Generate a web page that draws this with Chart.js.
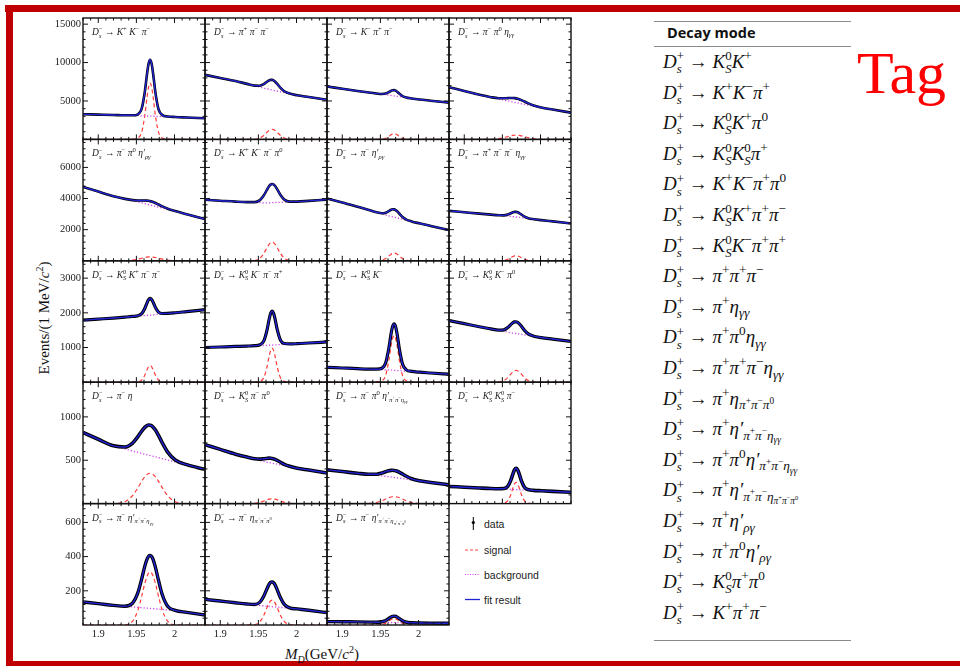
<!DOCTYPE html>
<html><head><meta charset="utf-8">
<script src="https://cdn.jsdelivr.net/npm/chart.js@4.4.1/dist/chart.umd.min.js"></script>
<style>
html,body{margin:0;padding:0;background:#fff;}
#page{position:relative;width:960px;height:666px;overflow:hidden;background:#fff;}
.bar{position:absolute;background:#c00000;}
canvas{position:absolute;z-index:2;}
.ttl{position:absolute;font-family:'Liberation Serif',serif;font-style:italic;font-size:9.5px;color:#222;white-space:nowrap;line-height:12px;z-index:5;}
.up{font-style:normal;}
.sp{font-size:.7em;position:relative;top:-.6em;}
.sb{font-size:.7em;position:relative;top:.35em;}
.st{display:inline-block;font-size:.68em;line-height:1;vertical-align:-.4em;}
.st>span{display:block;}
.row{position:absolute;left:663px;font-family:'Liberation Serif',serif;font-style:italic;font-size:19px;color:#111;white-space:nowrap;line-height:30px;height:30px;}
.hl{position:absolute;left:654px;width:197px;border-top:1.5px solid #8a8a8a;}
.lgt{position:absolute;font-family:'Liberation Sans',Arial,sans-serif;font-size:10.5px;color:#222;line-height:12px;}
.rs{position:relative;font-size:10px;}
</style></head>
<body><div id="page">
<div class="bar" style="left:5px;top:5px;width:955px;height:7px"></div>
<div class="bar" style="left:6px;top:5px;width:7px;height:661px"></div>
<div class="bar" style="left:6px;top:661px;width:954px;height:5px"></div>

<div class="hl" style="top:21px"></div>
<div style="position:absolute;left:667px;top:23px;line-height:20px;font-family:'Open Sans',sans-serif;font-weight:700;font-size:14.5px;color:#111">Decay mode</div>
<div class="hl" style="top:46px"></div>
<div class="hl" style="top:640px"></div>
<div style="position:absolute;left:857px;top:43px;font-family:'Liberation Serif',serif;font-size:60px;line-height:60px;color:#ff0000">Tag</div>

<div style="position:absolute;left:45px;top:318px;transform:translate(-50%,-50%) rotate(-90deg);font-family:'Liberation Serif',serif;font-size:15px;line-height:18px;color:#111;white-space:nowrap">Events/(1 MeV/<i>c</i><span class="rs" style="top:-6px">2</span>)</div>
<div style="position:absolute;left:285px;top:645px;font-family:'Liberation Serif',serif;font-size:15px;color:#111;white-space:nowrap;line-height:18px"><i>M</i><span class="rs" style="top:4px"><i>D</i></span>(GeV/<i>c</i><span class="rs" style="top:-6px">2</span>)</div>

<svg style="position:absolute;left:460px;top:510px;z-index:3" width="30" height="100">
  <line x1="13.3" y1="7" x2="13.3" y2="20" stroke="#000" stroke-width="1"/>
  <circle cx="13.3" cy="12.5" r="1.6" fill="#000"/>
  <line x1="5" y1="40" x2="20" y2="40" stroke="#ff4040" stroke-width="1.2" stroke-dasharray="3,2"/>
  <line x1="5" y1="64.5" x2="20" y2="64.5" stroke="#cc44ee" stroke-width="1.2" stroke-dasharray="1,1.5"/>
  <line x1="5" y1="89.5" x2="20" y2="89.5" stroke="#2323d6" stroke-width="1.3"/>
</svg>
<div class="lgt" style="left:484px;top:518px">data</div>
<div class="lgt" style="left:484px;top:544px">signal</div>
<div class="lgt" style="left:484px;top:568.5px">background</div>
<div class="lgt" style="left:484px;top:594px">fit result</div>
</div>
<script>
// ---------- data ----------
const massGrid = [1.880,1.900,1.920,1.935,1.945,1.952,1.957,1.961,1.964,1.966,1.968,1.970,1.972,1.975,1.979,1.984,1.991,2.001,2.016,2.040];
const bgGrid = [1.88,1.92,1.96,2.00,2.04];
const xTickLabels = [1.9, 1.95, 2];
const yTicksRow = [[5000,10000,15000],[2000,4000,6000],[1000,2000,3000],[500,1000],[200,400,600]];
const yMaxRow = [15800, 7800, 3500, 1400, 710];

const fit01 = [3280,3230,3180,3135,3134,3267,4022,6135,8544,9856,10362,9842,8516,6087,3947,3159,2981,2916,2852,2750];
const sig01 = [0,0,0,0,29,183,953,3079,5498,6817,7330,6817,5498,3079,953,183,29,0,0,0];
const bkg01 = [3280,3180,3060,2920,2750];
const fit02 = [8400,8000,7600,7225,6996,6978,7188,7479,7679,7751,7750,7667,7509,7181,6709,6268,5962,5735,5510,5150];
const sig02 = [0,0,0,0,21,178,513,900,1164,1279,1320,1279,1164,900,513,178,21,0,0,0];
const bkg02 = [8400,7600,6600,5750,5150];
const fit03 = [6880,6590,6300,6105,5975,5906,5959,6146,6322,6403,6414,6345,6206,5942,5644,5454,5330,5190,5036,4790];
const sig03 = [0,0,0,0,0,22,140,380,600,710,750,710,600,380,140,22,0,0,0,0];
const bkg03 = [6880,6300,5780,5200,4790];
const fit04 = [6800,6300,5800,5494,5356,5346,5375,5394,5390,5372,5340,5292,5230,5114,4931,4696,4417,4146,3882,3480];
const sig04 = [0,0,0,13,87,226,361,464,520,542,550,542,520,464,361,226,87,13,0,0];
const bkg04 = [6800,5800,4950,4150,3480];
const fit05 = [4750,4450,4150,3980,3896,3877,3879,3879,3869,3855,3834,3807,3773,3711,3616,3495,3348,3193,2992,2680];
const sig05 = [0,0,0,6,40,103,164,211,237,247,250,247,237,211,164,103,40,6,0,0];
const bkg05 = [4750,4150,3680,3200,2680];
const fit06 = [3920,3860,3800,3770,3769,3898,4193,4540,4786,4895,4936,4903,4802,4568,4225,3930,3801,3803,3852,3930];
const sig06 = [0,0,0,0,19,162,467,818,1058,1163,1200,1163,1058,818,467,162,19,0,0,0];
const bkg06 = [3920,3800,3720,3800,3930];
const fit07 = [4006,3743,3480,3263,3120,3053,3090,3192,3277,3308,3304,3260,3181,3024,2818,2649,2530,2409,2242,1975];
const sig07 = [0,0,0,0,2,37,146,304,425,480,500,480,425,304,146,37,2,0,0,0];
const bkg07 = [4006,3480,2900,2420,1975];
const fit08 = [3210,3120,3030,2966,2925,2918,2969,3054,3116,3141,3142,3117,3068,2970,2842,2740,2675,2615,2532,2400];
const sig08 = [0,0,0,0,1,24,96,200,280,317,330,317,280,200,96,24,1,0,0,0];
const bkg08 = [3210,3030,2860,2620,2400];
const fit09 = [1790,1820,1850,1876,1896,1918,1977,2124,2288,2378,2416,2386,2304,2152,2020,1980,1984,2002,2036,2090];
const sig09 = [0,0,0,0,2,12,62,202,360,446,480,446,360,202,62,12,2,0,0,0];
const bkg09 = [1790,1850,1920,2000,2090];
const fit10 = [1000,1015,1030,1041,1053,1079,1185,1473,1800,1979,2050,1984,1810,1491,1211,1115,1103,1111,1130,1160];
const sig10 = [0,0,0,0,4,25,127,412,735,911,980,911,735,412,127,25,4,0,0,0];
const bkg10 = [1000,1030,1060,1110,1160];
const fit11 = [430,410,390,377,375,402,559,969,1394,1605,1682,1599,1381,947,525,356,312,289,266,230];
const sig11 = [0,0,0,0,7,40,201,616,1045,1260,1340,1260,1045,616,201,40,7,0,0,0];
const bkg11 = [430,390,355,290,230];
const fit12 = [1775,1688,1600,1536,1499,1510,1575,1659,1716,1738,1742,1724,1688,1610,1496,1392,1327,1287,1244,1175];
const sig12 = [0,0,0,0,5,46,132,232,300,329,340,329,300,232,132,46,5,0,0,0];
const bkg12 = [1775,1600,1430,1290,1175];
const fit13 = [820,742,666,652,698,773,836,879,899,906,904,897,881,848,787,701,594,503,449,395];
const sig13 = [0,0,1,22,91,182,257,309,336,347,350,347,336,309,257,182,91,22,1,0];
const bkg13 = [820,665,572,483,395];
const fit14 = [680,625,570,536,518,513,517,521,524,523,521,516,510,497,477,453,430,408,387,352];
const sig14 = [0,0,0,0,4,15,30,43,51,54,55,54,51,43,30,15,4,0,0,0];
const bkg14 = [680,570,480,410,352];
const fit15 = [390,370,350,338,339,353,368,379,383,384,382,379,373,361,341,315,286,263,244,216];
const sig15 = [0,0,0,2,13,33,53,68,76,79,80,79,76,68,53,33,13,2,0,0];
const bkg15 = [390,350,312,262,216];
const fit16 = [198,189,180,174,172,174,198,268,347,390,407,389,344,262,189,161,153,148,141,131];
const sig16 = [0,0,0,0,1,6,32,103,184,228,245,228,184,103,32,6,1,0,0,0];
const bkg16 = [198,180,165,148,131];
const fit17 = [135,125,115,110,128,189,270,343,385,402,407,400,382,337,262,177,110,85,74,58];
const sig17 = [0,0,0,1,22,86,169,243,286,304,310,304,286,243,169,86,22,1,0,0];
const bkg17 = [135,115,100,85,58];
const fit18 = [150,140,130,123,120,134,168,209,237,249,252,247,234,203,159,121,100,94,86,72];
const sig18 = [0,0,0,0,2,20,56,99,128,141,145,141,128,99,56,20,2,0,0,0];
const bkg18 = [150,130,110,95,72];
const fit19 = [20,19,18,17,16,19,26,38,47,51,52,50,46,37,25,16,13,12,11,10];
const sig19 = [0,0,0,0,0,3,11,23,32,36,38,36,32,23,11,3,0,0,0,0];
const bkg19 = [20,18,15,12,10];

const panelTitles = [
 'D_s^- → K^+ K^- π^-','D_s^- → π^+ π^- π^-','D_s^- → K^- π^+ π^-','D_s^- → π^- π^0 η_{γγ}',
 'D_s^- → π^- π^0 η′_{ργ}','D_s^- → K^+ K^- π^- π^0','D_s^- → π^- η′_{ργ}','D_s^- → π^+ π^- π^- η_{γγ}',
 'D_s^- → K_S^0 K^+ π^- π^-','D_s^- → K_S^0 K^- π^- π^+','D_s^- → K_S^0 K^-','D_s^- → K_S^0 K^- π^0',
 'D_s^- → π^- η','D_s^- → K_S^0 π^- π^0','D_s^- → π^- π^0 η′_{π^+π^-η_{γγ}}','D_s^- → K_S^0 K_S^0 π^-',
 'D_s^- → π^- η′_{π^+π^-η_{γγ}}','D_s^- → π^- η_{π^+π^-π^0}','D_s^- → π^- η′_{π^+π^-η_{π^+π^-π^0}}'
];
const tagModes = [
 'D_s^+ → K_S^0K^+','D_s^+ → K^+K^-π^+','D_s^+ → K_S^0K^+π^0','D_s^+ → K_S^0K_S^0π^+',
 'D_s^+ → K^+K^-π^+π^0','D_s^+ → K_S^0K^+π^+π^-','D_s^+ → K_S^0K^-π^+π^+','D_s^+ → π^+π^+π^-',
 'D_s^+ → π^+η_{γγ}','D_s^+ → π^+π^0η_{γγ}','D_s^+ → π^+π^+π^-η_{γγ}','D_s^+ → π^+η_{π^+π^-π^0}',
 'D_s^+ → π^+η′_{π^+π^-η_{γγ}}','D_s^+ → π^+π^0η′_{π^+π^-η_{γγ}}','D_s^+ → π^+η′_{π^+π^-η_{π^+π^-π^0}}',
 'D_s^+ → π^+η′_{ργ}','D_s^+ → π^+π^0η′_{ργ}','D_s^+ → K_S^0π^+π^0','D_s^+ → K^+π^+π^-'
];

const fits = [fit01,fit02,fit03,fit04,fit05,fit06,fit07,fit08,fit09,fit10,fit11,fit12,fit13,fit14,fit15,fit16,fit17,fit18,fit19];
const sigs = [sig01,sig02,sig03,sig04,sig05,sig06,sig07,sig08,sig09,sig10,sig11,sig12,sig13,sig14,sig15,sig16,sig17,sig18,sig19];
const bkgs = [bkg01,bkg02,bkg03,bkg04,bkg05,bkg06,bkg07,bkg08,bkg09,bkg10,bkg11,bkg12,bkg13,bkg14,bkg15,bkg16,bkg17,bkg18,bkg19];

// ---------- helpers ----------
function tex(s){
  let out='', i=0;
  function arg(){
    if(s[i]==='{'){let d=1,j=i+1;while(d){if(s[j]==='{')d++;else if(s[j]==='}')d--;j++;}const a=s.slice(i+1,j-1);i=j;return a;}
    const a=s[i]; i++; return a;
  }
  while(i<s.length){
    const c=s[i];
    if(c==='_'||c==='^'){
      i++; let sub=null, sup=null;
      if(c==='_') sub=arg(); else sup=arg();
      if(s[i]==='^'&&sup===null){i++;sup=arg();}
      else if(s[i]==='_'&&sub===null){i++;sub=arg();}
      if(sub!==null&&sup!==null) out+='<span class="st"><span>'+tex(sup)+'</span><span>'+tex(sub)+'</span></span>';
      else if(sup!==null) out+='<span class="sp">'+tex(sup)+'</span>';
      else out+='<span class="sb">'+tex(sub)+'</span>';
    } else if(/[0-9+\-()→]/.test(c)){ out+='<span class="up">'+(c==='-'?'−':c)+'</span>'; i++; }
    else { out+=c; i++; }
  }
  return out;
}
const xy = (xs, ys) => xs.map((x,k)=>({x:x, y:ys[k]}));

const rootFrame = {
  id:'rootFrame',
  afterDatasetsDraw(chart, args, opts){
    const {ctx, chartArea:a} = chart, sx = chart.scales.x, sy = chart.scales.y;
    ctx.save();
    ctx.strokeStyle='#111'; ctx.lineWidth=1;
    ctx.beginPath();
    for(let k=0;k<=16;k++){
      const v=1.88+k*0.01, px=sx.getPixelForValue(v);
      const major=xTickLabels.some(t=>Math.abs(t-v)<1e-6), L=major?5:2.5;
      ctx.moveTo(px,a.bottom); ctx.lineTo(px,a.bottom-L);
      ctx.moveTo(px,a.top); ctx.lineTo(px,a.top+L);
    }
    const step=opts.major/5;
    for(let k=1;k*step<sy.max;k++){
      const v=k*step, py=sy.getPixelForValue(v), L=(k%5===0)?5:2.5;
      ctx.moveTo(a.left,py); ctx.lineTo(a.left+L,py);
      ctx.moveTo(a.right,py); ctx.lineTo(a.right-L,py);
    }
    ctx.stroke();
    ctx.lineWidth=1.4;
    ctx.strokeRect(a.left,a.top,a.right-a.left,a.bottom-a.top);
    ctx.restore();
  }
};

const page=document.getElementById('page');
const dataW=[2.6,2.6,3.2,3.6,3.4];
const serif="'Liberation Serif', serif";

fits.forEach((fit,i)=>{
  const r=Math.floor(i/4), c=i%4;
  const left=83+c*122, top=18+r*121.4, W=122, H=121.4;
  const L=c===0?45:0, B=r===4?20:0;
  const cx=Math.floor(left-L-3), cy=Math.floor(top-3);
  const cw=Math.ceil(left+W+3)-cx, ch=Math.ceil(top+H+B+3)-cy;
  const cv=document.createElement('canvas');
  cv.width=cw; cv.height=ch;
  cv.style.left=cx+'px'; cv.style.top=cy+'px'; cv.style.width=cw+'px'; cv.style.height=ch+'px';
  page.appendChild(cv);
  const pad={left:left-L-cx, top:top-cy, right:cx+cw-(left+W), bottom:cy+ch-(top+H+B)};
  const yt=yTicksRow[r];
  new Chart(cv,{
    type:'line',
    data:{datasets:[
      {label:'signal',data:xy(massGrid,sigs[i]),borderColor:'#ff3b3b',borderWidth:1.2,borderDash:[4,3],pointRadius:0,cubicInterpolationMode:'monotone',order:4},
      {label:'background',data:xy(bgGrid,bkgs[i]),borderColor:'#cc44ee',borderWidth:1.3,borderDash:[1.2,2],pointRadius:0,tension:0,order:3},
      {label:'data',data:xy(massGrid,fit),borderColor:'#000',borderWidth:dataW[r],pointRadius:0,cubicInterpolationMode:'monotone',order:2},
      {label:'fit result',data:xy(massGrid,fit),borderColor:'#2323d6',borderWidth:1.4,pointRadius:0,cubicInterpolationMode:'monotone',order:1}
    ]},
    options:{
      responsive:false, maintainAspectRatio:false, animation:false, devicePixelRatio:1, events:[],
      layout:{padding:pad},
      plugins:{legend:{display:false},tooltip:{enabled:false},rootFrame:{major:yt[1]-yt[0]}},
      scales:{
        x:{type:'linear',min:1.88,max:2.04,display:r===4,
          afterBuildTicks:s=>{s.ticks=xTickLabels.map(v=>({value:v}));},
          afterFit:s=>{s.height=B;s.paddingLeft=0;s.paddingRight=0;},
          grid:{display:false,drawTicks:false},border:{display:false},
          ticks:{autoSkip:false,maxRotation:0,padding:3,color:'#222',font:{family:serif,size:10.5},callback:v=>String(v)}},
        y:{type:'linear',min:0,max:yMaxRow[r],display:c===0,
          afterBuildTicks:s=>{s.ticks=yt.map(v=>({value:v}));},
          afterFit:s=>{s.width=L;s.paddingTop=0;s.paddingBottom=0;},
          grid:{display:false,drawTicks:false},border:{display:false},
          ticks:{autoSkip:false,padding:2,color:'#222',font:{family:serif,size:10.5},callback:v=>String(v)}}
      }
    },
    plugins:[rootFrame]
  });
  const t=document.createElement('div');
  t.className='ttl'; t.style.left=(left+9)+'px'; t.style.top=(top+8)+'px';
  t.innerHTML=tex(panelTitles[i]);
  page.appendChild(t);
});

tagModes.forEach((m,k)=>{
  const d=document.createElement('div');
  d.className='row'; d.style.top=(62+k*30.6-15)+'px';
  d.innerHTML=tex(m);
  page.appendChild(d);
});
</script>
</body></html>
